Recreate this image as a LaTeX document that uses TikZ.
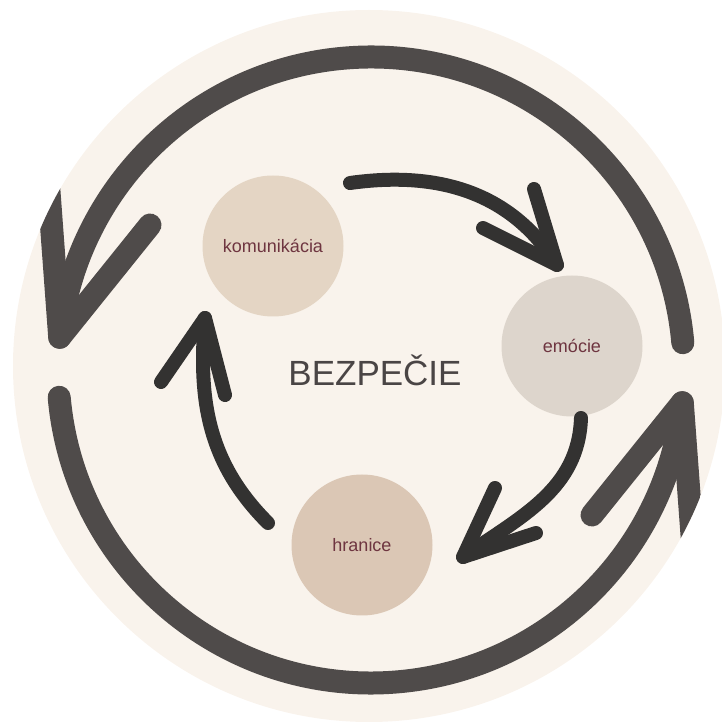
\documentclass[tikz,border=0pt]{standalone}
\usepackage{fontspec}
\setmainfont{Liberation Sans}
\usetikzlibrary{positioning}
\definecolor{creamBg}{HTML}{F9F3EC}
\definecolor{ringGray}{HTML}{4F4B4A}
\definecolor{arrowDark}{HTML}{333231}
\definecolor{komFill}{HTML}{E4D5C4}
\definecolor{emoFill}{HTML}{DDD5CC}
\definecolor{hraFill}{HTML}{DBC7B5}
\definecolor{labelRed}{HTML}{6E3540}
\definecolor{titleGray}{HTML}{4A4545}

\begin{document}
\begin{tikzpicture}[x=1pt, y=1pt,
    ringline/.style={draw=ringGray, line width=23pt, line cap=round, line join=round},
    cycline/.style={draw=arrowDark, line width=14pt, line cap=round, line join=round},
    topic/.style={circle, fill=#1, minimum size=141pt, inner sep=0pt,
                  font=\fontsize{18}{20}\selectfont, text=labelRed},
  ]
    \useasboundingbox (0,0) rectangle (722,724);
    \coordinate (bg) at (369,358);
    \coordinate (ring) at (371,354);
    \fill[creamBg] (bg) circle[radius=356];

    % outer ring, clipped to the background disc
    \begin{scope}
      \clip (bg) circle[radius=356];
      \path (ring) ++(174:313) coordinate (ltip);
      \path (ring) ++(354:313) coordinate (rtip);
      \coordinate (lbarbA) at (48,546);
      \coordinate (lbarbB) at (150,499);
      \coordinate (rbarbA) at (694,162);
      \coordinate (rbarbB) at (592,209);
      \draw[ringline] (ring) ++(5:313) arc[start angle=5, end angle=174, radius=313];
      \draw[ringline] (lbarbA) -- (ltip) -- (lbarbB);
      \draw[ringline] (ring) ++(185:313) arc[start angle=185, end angle=354, radius=313];
      \draw[ringline] (rbarbA) -- (rtip) -- (rbarbB);
    \end{scope}

    % the three topics
    \node[topic=komFill] (kom) at (273,478) {komunikácia};
    \node[topic=emoFill] (emo) at (572,378) {emócie};
    \node[topic=hraFill] (hra) at (362,179) {hranice};
    \node[font=\fontsize{35}{40}\selectfont, text=titleGray] (safe) at (375,354) {BEZPEČIE};

    % inner cycle
    \coordinate (ka) at (350,541);
    \coordinate (ke) at (557,459);
    \coordinate (ea) at (581,306);
    \coordinate (eh) at (463,167);
    \coordinate (ha) at (268,201);
    \coordinate (hk) at (205,406);
    \draw[cycline] (ka) to[out=8, in=122] (ke);
    \draw[cycline] (534,535) coordinate (keA) -- (ke) -- (483,496) coordinate (keB);
    \draw[cycline] (ea) to[out=-92, in=35] (eh);
    \draw[cycline] (495,236) coordinate (ehA) -- (eh) -- (536,191) coordinate (ehB);
    \draw[cycline] (ha) to[out=135, in=-95] (hk);
    \draw[cycline] (161,342) coordinate (hkA) -- (hk) -- (225,329) coordinate (hkB);
  \end{tikzpicture}
\end{document}
